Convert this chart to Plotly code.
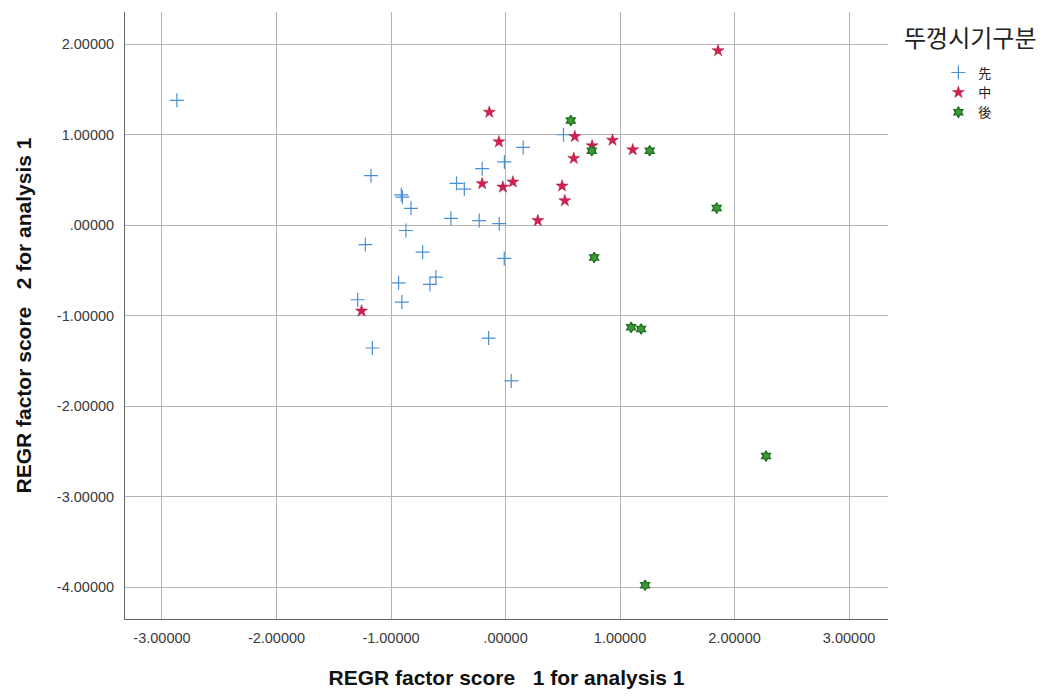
import plotly.graph_objects as go

# Data
blue_x = [-2.87, -1.175, -0.91, -0.90, -0.826, -0.428, -0.36, -0.204, -0.01, 0.154, 0.506,
          -0.477, -0.23, -0.055, -0.87, -1.224, -0.724, -0.011, -0.608, -0.66, -0.934,
          -0.905, -1.291, -1.163, -0.148, 0.05]
blue_y = [1.38, 0.548, 0.336, 0.31, 0.187, 0.463, 0.40, 0.625, 0.70, 0.86, 1.0,
          0.077, 0.052, 0.018, -0.058, -0.213, -0.297, -0.367, -0.573, -0.654, -0.636,
          -0.849, -0.823, -1.356, -1.246, -1.72]

red_x = [-0.142, -0.058, -0.204, -0.023, 0.064, 0.282, 0.494, 0.518, 0.605, 0.596,
         0.756, 0.934, 1.111, 1.856, -1.257]
red_y = [1.249, 0.922, 0.46, 0.422, 0.478, 0.052, 0.434, 0.272, 0.98, 0.739,
         0.878, 0.94, 0.834, 1.929, -0.948]

green_x = [0.57, 0.753, 1.259, 1.844, 0.774, 1.097, 1.184, 2.275, 1.219]
green_y = [1.157, 0.823, 0.823, 0.19, -0.356, -1.128, -1.146, -2.55, -3.977]

series_names = ["先", "中", "後"]
legend_title = "뚜껑시기구분"

x_tick_vals = [-3, -2, -1, 0, 1, 2, 3]
x_tick_text = ["-3.00000", "-2.00000", "-1.00000", ".00000", "1.00000", "2.00000", "3.00000"]
y_tick_vals = [2, 1, 0, -1, -2, -3, -4]
y_tick_text = ["2.00000", "1.00000", ".00000", "-1.00000", "-2.00000", "-3.00000", "-4.00000"]

x_title = "REGR factor score   1 for analysis 1"
y_title = "REGR factor score   2 for analysis 1"

fig = go.Figure()
fig.add_trace(go.Scatter(
    x=blue_x, y=blue_y, mode="markers", name=series_names[0],
    marker=dict(symbol="cross-thin", size=10, line=dict(color="#4a8fd6", width=1.2), color="#4a8fd6"),
))
fig.add_trace(go.Scatter(
    x=red_x, y=red_y, mode="markers", name=series_names[1],
    marker=dict(symbol="star", size=9, color="#d3204f", line=dict(color="#a0103a", width=0.5)),
))
fig.add_trace(go.Scatter(
    x=green_x, y=green_y, mode="markers", name=series_names[2],
    marker=dict(symbol="hexagram", size=8, color="#3a9a3a", line=dict(color="#1d6b1d", width=1.2)),
))

axis_font = dict(family="Liberation Sans, Arial, sans-serif", size=14.5, color="#3a3a3a")
title_font = dict(family="Liberation Sans, Arial, sans-serif", size=21, color="#111111")

fig.update_layout(
    width=1031, height=681,
    paper_bgcolor="white", plot_bgcolor="white",
    margin=dict(l=117, r=151, t=4, b=68),
    showlegend=True,
    legend=dict(
        x=1.066, y=0.925, xanchor="left", yanchor="top",
        font=dict(family="Noto Sans CJK KR", size=13, color="#222222"),
        tracegroupgap=0, itemwidth=30, bgcolor="rgba(0,0,0,0)",
    ),
    annotations=[dict(
        text=legend_title, x=1.1075, y=0.959, xref="paper", yref="paper",
        xanchor="center", yanchor="middle", showarrow=False,
        font=dict(family="Noto Sans CJK KR", size=24, color="#222222"),
    )],
)

fig.update_xaxes(
    range=[-3.323, 3.340], tickvals=x_tick_vals, ticktext=x_tick_text,
    showgrid=True, gridcolor="#b4b4b4", gridwidth=1, zeroline=False,
    showline=True, linecolor="#666666", linewidth=1,
    ticks="", ticklabelstandoff=6,
    tickfont=axis_font,
    title=dict(text="<b>" + x_title + "</b>", font=title_font, standoff=24),
)
fig.update_yaxes(
    range=[-4.35, 2.356], tickvals=y_tick_vals, ticktext=y_tick_text,
    showgrid=True, gridcolor="#b4b4b4", gridwidth=1, zeroline=False,
    showline=True, linecolor="#666666", linewidth=1,
    ticks="", ticklabelstandoff=7,
    tickfont=axis_font,
    title=dict(text="<b>" + y_title + "</b>", font=title_font, standoff=19),
)

fig.write_html("out.html")
